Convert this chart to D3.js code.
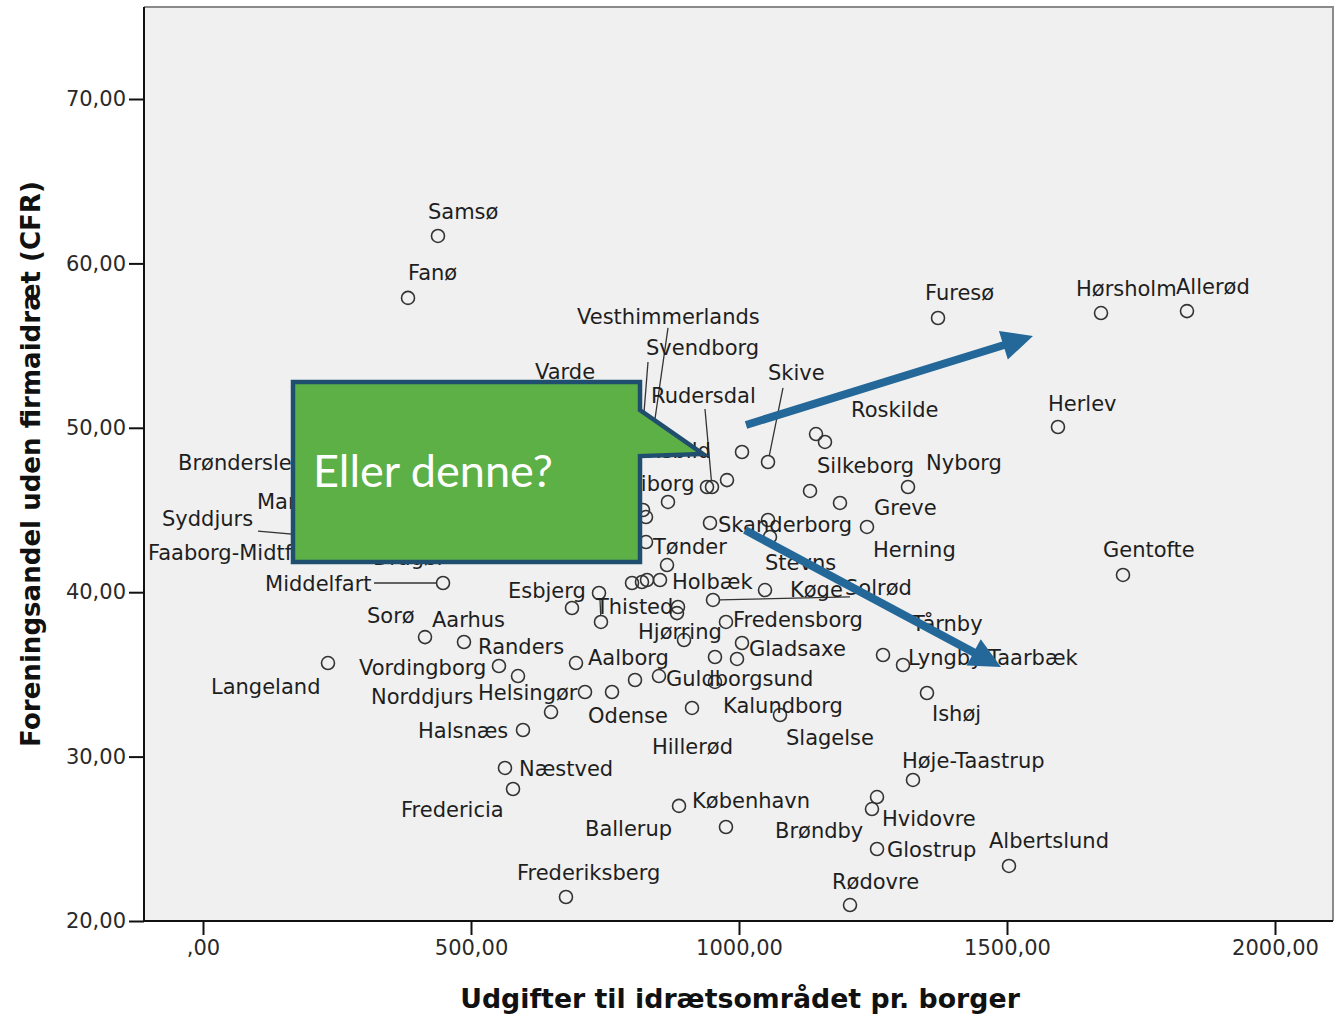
<!DOCTYPE html>
<html><head><meta charset="utf-8">
<script src="https://cdn.jsdelivr.net/npm/d3@7"></script>
<style>body{margin:0;background:#fff}svg{display:block}</style>
</head><body>
<svg id="chart" width="1335" height="1016"></svg>
<script>
// ---------- DATA ----------
const municipalities = ["Samsø","Fanø","Furesø","Hørsholm","Allerød","Herlev","Gentofte","Skive","Roskilde","Silkeborg","Nyborg","Greve","Herning","Stevns","Skanderborg","Køge","Solrød","Tårnby","Lyngby-Taarbæk","Ishøj","Høje-Taastrup","Hvidovre","Brøndby","Glostrup","Albertslund","Rødovre","København","Ballerup","Frederiksberg","Næstved","Fredericia","Halsnæs","Norddjurs","Helsingør","Vordingborg","Randers","Aarhus","Sorø","Aalborg","Odense","Hillerød","Kalundborg","Slagelse","Guldborgsund","Gladsaxe","Fredensborg","Hjørring","Thisted","Esbjerg","Holbæk","Tønder","Middelfart","Langeland","Rudersdal","Vesthimmerlands","Svendborg","Rebild","Viborg","Varde","Brønderslev","Mariagerfjord","Syddjurs","Faaborg-Midtfyn","Dragør"];
const spending = [438.4,382.5,1371.3,1675.4,1835.8,1595.1,1716.4,1054.1,1143.7,1132.5,1315.3,1188.4,1238.8,1057.8,945.9,951.5,1048.5,1268.7,1306.0,1350.7,1324.6,1248.1,1257.5,1257.5,1503.7,1207.1,888.1,975.7,677.2,563.4,578.4,597.0,649.3,712.7,552.2,587.7,486.9,414.2,695.9,763.1,912.3,955.2,1076.5,850.7,1005.6,975.7,897.4,742.5,738.8,852.6,826.5,447.8,233.2,949.6,837.7,820.9,796.6,763.0,647.4,214.6,367.5,292.9,218.3,423.5];
const share = [61.67,57.90,56.68,56.98,57.10,50.05,41.05,47.92,49.62,46.16,46.40,45.43,43.97,43.36,44.21,39.53,40.13,36.18,35.57,33.87,28.58,26.81,27.54,24.38,23.35,20.97,27.00,25.72,21.46,29.31,28.03,31.62,32.71,33.93,35.51,34.90,36.97,37.27,35.69,33.93,32.96,34.54,32.53,34.90,36.91,38.19,37.09,38.19,39.95,40.74,43.05,40.56,35.69,46.40,49.26,50.17,47.43,45.61,51.69,47.92,45.30,43.17,42.26,43.17];
// points whose labels are not shown
const otherSpending = [1005.6,1160.4,977.6,940.3,867.5,820.9,826.5,1054.1,865.7,800.4,819.0,828.4,688.4,886.2,884.3,955.2,996.3,806.0];
const otherShare = [48.53,49.14,46.82,46.40,45.49,45.00,44.57,44.39,41.65,40.56,40.62,40.74,39.04,39.10,38.73,36.06,35.94,34.66];

const xTickValues = [0,500,1000,1500,2000];
const xTickLabels = [",00","500,00","1000,00","1500,00","2000,00"];
const yTickValues = [20,30,40,50,60,70];
const yTickLabels = ["20,00","30,00","40,00","50,00","60,00","70,00"];
const xTitle = "Udgifter til idrætsområdet pr. borger";
const yTitle = "Foreningsandel uden firmaidræt (CFR)";
const calloutText = "Eller denne?";

// ---------- LAYOUT (label offsets in px, same order as municipalities) ----------
const labelOffsets = [[-10,-25],[0,-25],[-13,-26],[-25,-25],[-11,-25],[-10,-24],[-20,-25],[0,-90],[35,-25],[7,-25],[18,-25],[34,5],[6,23],[-5,25],[8,1],[77,-10],[80,-3],[29,-32],[5,-8],[5,20],[-11,-20],[10,9],[-102,33],[10,0],[-20,-25],[-18,-24],[13,-5],[-141,1],[-49,-25],[14,0],[-112,20],[-105,0],[-180,-16],[-107,0],[-140,1],[-40,-30],[-32,-23],[-58,-22],[12,-6],[-24,23],[-40,39],[8,23],[6,22],[7,2],[7,5],[7,-3],[-46,-9],[-5,-16],[-91,-3],[12,1],[7,4],[-178,0],[-117,23],[-61,-92],[-75,-124],[3,-78],[16,-20],[15,-17],[-15,-29],[-140,0],[-143,-4],[-198,-22],[-172,-3],[-57,17]];
const leaders = {"Skive":[15,-74],"Køge":[137,-3],"Thisted":[-1,-23],"Middelfart":[-69,0],"Rudersdal":[-7,-78],"Vesthimmerlands":[16,-112],"Svendborg":[5,-63],"Syddjurs":[-102,-9]};

// annotation geometry in data units
const callout = {left:167.9,right:815.3,top:52.79,bottom:41.84,notchTop:51.08,tipX:932.8,tipY:48.41,notchBottom:48.28};
const arrows = [{x0:1013.1,y0:50.17,x1:1548.5,y1:55.58},{x0:1011.2,y0:43.78,x1:1488.8,y1:35.45}];

// ---------- CHART ----------
const svg = d3.select("#chart");
const plot = {left:144,right:1333,top:7,bottom:921};
const x = d3.scaleLinear().domain([0,2000]).range([203,1275]);
const y = d3.scaleLinear().domain([20,70]).range([921,99]);
const FONT = "'DejaVu Sans', sans-serif";
const LABEL_SIZE = 21;

svg.append("rect").attr("x",0).attr("y",0).attr("width",1335).attr("height",1016).attr("fill","#fff");
svg.append("rect").attr("x",plot.left).attr("y",plot.top).attr("width",plot.right-plot.left).attr("height",plot.bottom-plot.top)
  .attr("fill","#f0f0f0");
svg.append("path").attr("d",`M${plot.left},${plot.top}H${plot.right}V${plot.bottom}`).attr("fill","none").attr("stroke","#8a8a8a").attr("stroke-width",2);

// axes
const yAxis = d3.axisLeft(y).tickValues(yTickValues).tickFormat((d,i)=>yTickLabels[i]).tickSize(15).tickSizeOuter(0).tickPadding(3);
const xAxis = d3.axisBottom(x).tickValues(xTickValues).tickFormat((d,i)=>xTickLabels[i]).tickSize(14).tickSizeOuter(0).tickPadding(5);
const gy = svg.append("g").attr("transform",`translate(${plot.left},0)`).call(yAxis);
const gx = svg.append("g").attr("transform",`translate(0,${plot.bottom})`).call(xAxis);
[gx,gy].forEach(g=>{
  g.select(".domain").remove();
  g.selectAll(".tick line").attr("stroke","#111").attr("stroke-width",2);
  g.selectAll(".tick text").attr("font-family",FONT).attr("font-size",21).attr("fill","#2a2a2a");
});
svg.append("path").attr("d",`M${plot.left},${plot.top}V${plot.bottom}H${plot.right}`).attr("fill","none").attr("stroke","#111").attr("stroke-width",2);

// axis titles, fitted to reference widths
function fitText(sel, target){
  const w = sel.node().getComputedTextLength();
  const fs = +sel.attr("font-size");
  sel.attr("font-size", fs*target/w);
}
const xt = svg.append("text").attr("x",740).attr("y",1008).attr("text-anchor","middle")
  .attr("font-family",FONT).attr("font-weight","bold").attr("font-size",26).attr("fill","#111").text(xTitle);
fitText(xt,560);
const yt = svg.append("text").attr("transform","translate(40,464) rotate(-90)").attr("text-anchor","middle")
  .attr("font-family",FONT).attr("font-weight","bold").attr("font-size",26).attr("fill","#111").text(yTitle);
fitText(yt,566);

// points
const R = 6.5;
const mk = "#333";
const pts = svg.append("g");
pts.selectAll("circle.o").data(otherSpending).join("circle").attr("class","o")
  .attr("cx",d=>x(d)).attr("cy",(d,i)=>y(otherShare[i])).attr("r",R)
  .attr("fill","none").attr("stroke",mk).attr("stroke-width",1.6);
pts.selectAll("circle.m").data(municipalities).join("circle").attr("class","m")
  .attr("cx",(d,i)=>x(spending[i])).attr("cy",(d,i)=>y(share[i])).attr("r",R)
  .attr("fill","none").attr("stroke",mk).attr("stroke-width",1.6);

// leader lines
municipalities.forEach((name,i)=>{
  const L = leaders[name]; if(!L) return;
  const px = x(spending[i]), py = y(share[i]);
  const len = Math.hypot(L[0],L[1]);
  svg.append("line").attr("x1",px+L[0]/len*R).attr("y1",py+L[1]/len*R)
    .attr("x2",px+L[0]).attr("y2",py+L[1]).attr("stroke","#333").attr("stroke-width",1.3);
});

// labels
svg.append("g").selectAll("text").data(municipalities).join("text")
  .attr("x",(d,i)=>x(spending[i])+labelOffsets[i][0])
  .attr("y",(d,i)=>y(share[i])+labelOffsets[i][1])
  .attr("dy","0.36em")
  .attr("font-family",FONT).attr("font-size",LABEL_SIZE).attr("fill","#1e1e1e")
  .text(d=>d);

// callout
const c = callout;
const cp = [[c.left,c.top],[c.right,c.top],[c.right,c.notchTop],[c.tipX,c.tipY],[c.right,c.notchBottom],[c.right,c.bottom],[c.left,c.bottom]]
  .map(p=>[x(p[0]),y(p[1])]);
svg.append("path").attr("d","M"+cp.map(p=>p.join(",")).join("L")+"Z")
  .attr("fill","#5cb046").attr("stroke","#1f4e6e").attr("stroke-width",4.5).attr("stroke-linejoin","miter");
const ct = svg.append("text").attr("x",x(c.left)+20).attr("y",y(c.top)+105)
  .attr("font-family","Lato, 'Open Sans', sans-serif").attr("font-size",42).attr("fill","#fff").text(calloutText);
fitText(ct,240);

// arrows
function arrowPath(x0,y0,x1,y1,w,hl,hw){
  const dx=x1-x0, dy=y1-y0, L=Math.hypot(dx,dy), ux=dx/L, uy=dy/L, nx=-uy, ny=ux;
  const bx=x1-ux*hl, by=y1-uy*hl;
  const p=[[x0+nx*w/2,y0+ny*w/2],[bx+nx*w/2,by+ny*w/2],[bx+nx*hw,by+ny*hw],[x1,y1],[bx-nx*hw,by-ny*hw],[bx-nx*w/2,by-ny*w/2],[x0-nx*w/2,y0-ny*w/2]];
  return "M"+p.map(q=>q.join(",")).join("L")+"Z";
}
arrows.forEach(a=>{
  svg.append("path").attr("d",arrowPath(x(a.x0),y(a.y0),x(a.x1),y(a.y1),8,31,15)).attr("fill","#24689a");
});
</script>
</body></html>
